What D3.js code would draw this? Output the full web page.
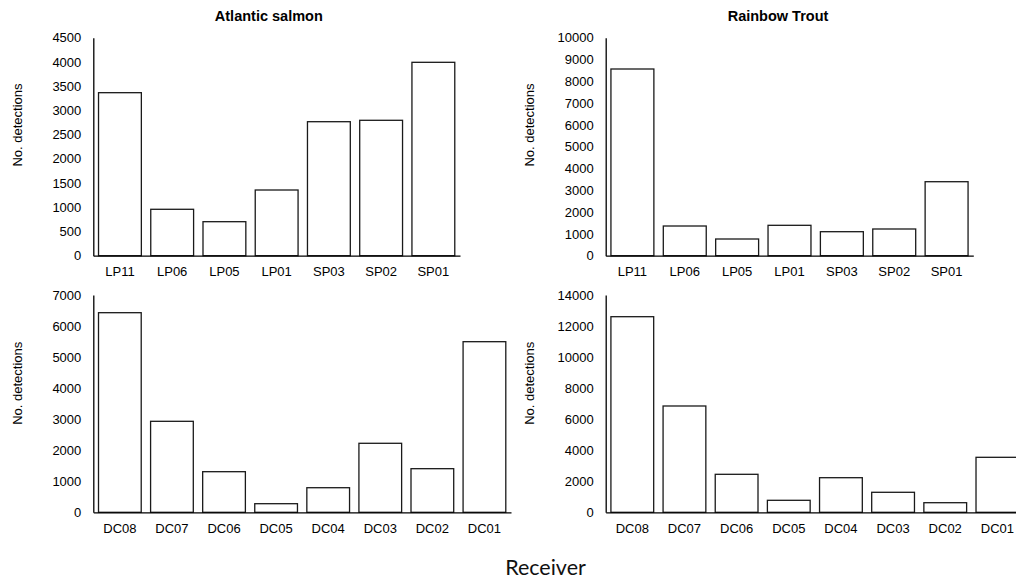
<!DOCTYPE html>
<html>
<head>
<meta charset="utf-8">
<script src="https://cdn.jsdelivr.net/npm/d3@7"></script>
<style>
  html, body { margin: 0; padding: 0; background: #fff; overflow: hidden; }
  svg { display: block; }
  .tick text { font-family: "Liberation Sans", Arial, sans-serif; font-size: 13px; fill: #000; }
</style>
</head>
<body>
<svg id="chart" width="1016" height="581"></svg>
<script>
// Receiver names along each river section
const upperReceivers = ["LP11", "LP06", "LP05", "LP01", "SP03", "SP02", "SP01"];
const lowerReceivers = ["DC08", "DC07", "DC06", "DC05", "DC04", "DC03", "DC02", "DC01"];

// Detection counts per receiver
const salmonUpper = [3365, 958, 702, 1356, 2766, 2795, 3992];
const troutUpper = [8564, 1362, 766, 1394, 1101, 1225, 3394];
const salmonLower = [6430, 2931, 1308, 277, 792, 2223, 1405, 5496];
const troutLower = [12602, 6849, 2448, 773, 2229, 1289, 618, 3543];

// Y-axis tick values
const salmonUpperTicks = [0, 500, 1000, 1500, 2000, 2500, 3000, 3500, 4000, 4500];
const troutUpperTicks = [0, 1000, 2000, 3000, 4000, 5000, 6000, 7000, 8000, 9000, 10000];
const salmonLowerTicks = [0, 1000, 2000, 3000, 4000, 5000, 6000, 7000];
const troutLowerTicks = [0, 2000, 4000, 6000, 8000, 10000, 12000, 14000];

// Panel titles and axis labels
const speciesTitles = ["Atlantic salmon", "Rainbow Trout"];
const yAxisLabel = "No. detections";
const xAxisLabel = "Receiver";

const svg = d3.select("#chart");

const panels = [
  { cats: upperReceivers, vals: salmonUpper, ticks: salmonUpperTicks, title: speciesTitles[0],
    x0: 93.3, x1: 460, y0: 255.7, y1: 37.7, titleX: 268.8, titleY: 20.5, ylabX: 17, ylabY: 125 },
  { cats: upperReceivers, vals: troutUpper, ticks: troutUpperTicks, title: speciesTitles[1],
    x0: 605.7, x1: 973.3, y0: 255.7, y1: 37.7, titleX: 778, titleY: 20.5, ylabX: 529.3, ylabY: 125 },
  { cats: lowerReceivers, vals: salmonLower, ticks: salmonLowerTicks, title: null,
    x0: 93.3, x1: 511, y0: 512.3, y1: 295, ylabX: 17, ylabY: 383.3 },
  { cats: lowerReceivers, vals: troutLower, ticks: troutLowerTicks, title: null,
    x0: 605.7, x1: 1024, y0: 512.3, y1: 295, ylabX: 529, ylabY: 383.3 }
];

panels.forEach(p => {
  const g = svg.append("g");

  const x = d3.scaleBand()
    .domain(p.cats)
    .range([p.x0, p.x1])
    .paddingInner(0.18)
    .paddingOuter(0.1);

  const yMax = p.ticks[p.ticks.length - 1];
  const y = d3.scaleLinear().domain([0, yMax]).range([p.y0, p.y1]);

  // bars
  g.selectAll("rect.bar")
    .data(p.cats.map((c, i) => ({ c, v: p.vals[i] })))
    .join("rect")
    .attr("class", "bar")
    .attr("x", d => x(d.c))
    .attr("y", d => y(d.v))
    .attr("width", x.bandwidth())
    .attr("height", d => y(0) - y(d.v))
    .attr("fill", "#fff")
    .attr("stroke", "#1a1a1a")
    .attr("stroke-width", 1.3);

  // y axis
  const yAxis = g.append("g")
    .attr("transform", `translate(${p.x0},0)`)
    .call(d3.axisLeft(y).tickValues(p.ticks).tickSize(0).tickPadding(12).tickFormat(d3.format("d")));
  yAxis.select(".domain").attr("stroke", "#000").attr("stroke-width", 1.3);

  // x axis
  const xAxis = g.append("g")
    .attr("transform", `translate(0,${p.y0})`)
    .call(d3.axisBottom(x).tickSize(0).tickPadding(11));
  xAxis.select(".domain").attr("stroke", "#000").attr("stroke-width", 1.3);

  // y axis label
  g.append("text")
    .attr("transform", `translate(${p.ylabX},${p.ylabY}) rotate(-90)`)
    .attr("text-anchor", "middle")
    .attr("dominant-baseline", "central")
    .style("font-family", "'Liberation Sans', Arial, sans-serif")
    .style("font-size", "13px")
    .text(yAxisLabel);

  if (p.title) {
    g.append("text")
      .attr("x", p.titleX)
      .attr("y", p.titleY)
      .attr("text-anchor", "middle")
      .style("font-family", "'Liberation Sans', Arial, sans-serif")
      .style("font-size", "14.5px")
      .style("font-weight", "bold")
      .text(p.title);
  }
});

// shared x axis title
svg.append("text")
  .attr("x", 545.5)
  .attr("y", 575)
  .attr("text-anchor", "middle")
  .style("font-family", "Lato, 'Open Sans', sans-serif")
  .style("font-size", "21.5px")
  .style("fill", "#111")
  .text(xAxisLabel);
</script>
</body>
</html>
